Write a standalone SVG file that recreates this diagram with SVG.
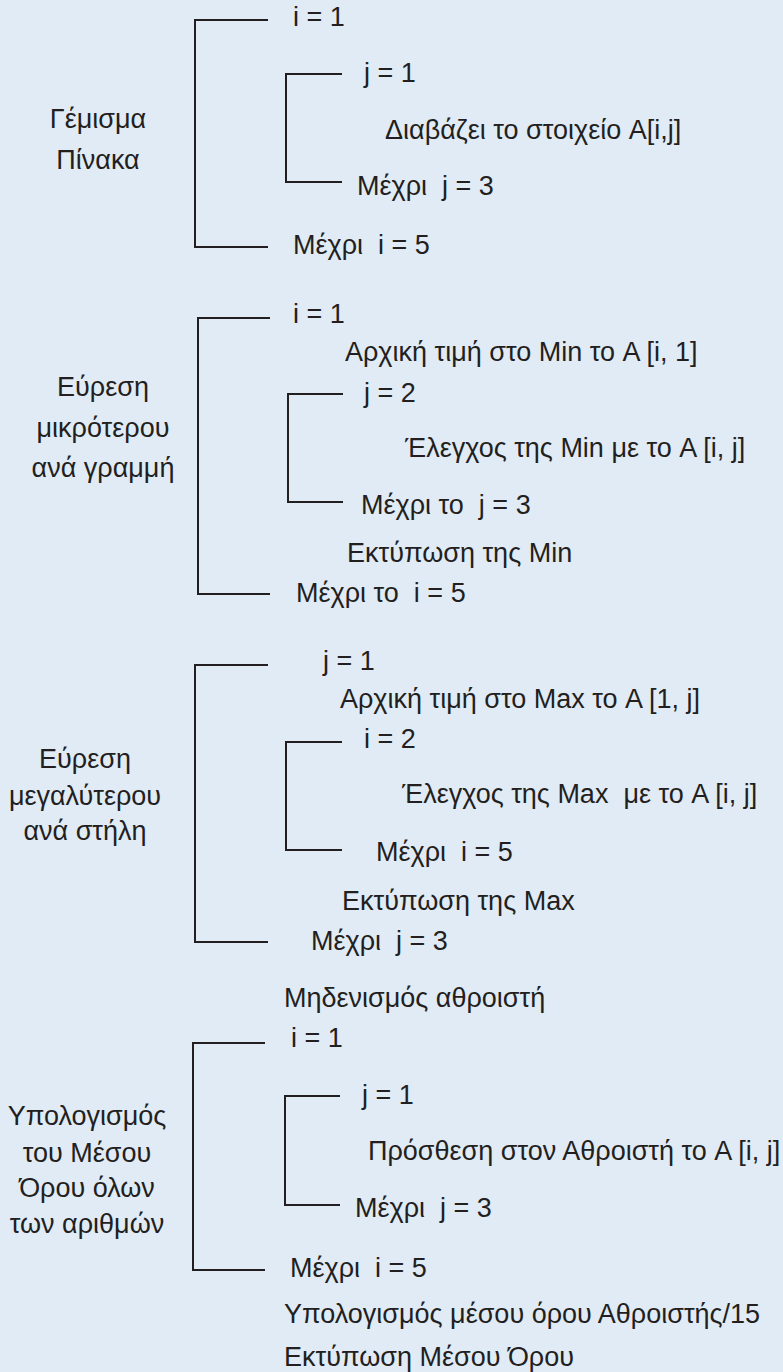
<svg xmlns="http://www.w3.org/2000/svg" width="783" height="1372" viewBox="0 0 783 1372">
<style>
text{font-family:"Liberation Sans","Noto Sans",sans-serif;font-size:27px;fill:#231f20}
.c{text-anchor:middle}
.br{fill:none;stroke:#231f20;stroke-width:2}
</style>
<rect width="783" height="1372" fill="#e1ebf6"/>
<g id="connectors">
<path class="br" d="M268 20H195V247H268"/>
<path class="br" d="M342 74H286V182H342"/>
<path class="br" d="M270 318H198V594H270"/>
<path class="br" d="M343 394H288V502H343"/>
<path class="br" d="M268 665H195V942H268"/>
<path class="br" d="M342 742H286V850H342"/>
<path class="br" d="M265 1043H193V1270H265"/>
<path class="br" d="M340 1096H285V1205H340"/>
</g>
<g id="s1-label"><text class="c" x="98" y="128">Γέμισμα</text><text class="c" x="98" y="169">Πίνακα</text></g>
<g id="s1-i1"><text x="293" y="26">i = 1</text></g>
<g id="s1-j1"><text x="364" y="82">j = 1</text></g>
<g id="s1-read"><text x="385" y="139">Διαβάζει το στοιχείο A[i,j]</text></g>
<g id="s1-j3"><text x="357" y="195">Μέχρι&#160; j = 3</text></g>
<g id="s1-i5"><text x="293" y="254">Μέχρι&#160; i = 5</text></g>

<g id="s2-label"><text class="c" x="103" y="396">Εύρεση</text><text class="c" x="103" y="437">μικρότερου</text><text class="c" x="103" y="477">ανά γραμμή</text></g>
<g id="s2-i1"><text x="293" y="323">i = 1</text></g>
<g id="s2-init"><text x="345" y="361">Αρχική τιμή στο Min το A [i, 1]</text></g>
<g id="s2-j2"><text x="364" y="402">j = 2</text></g>
<g id="s2-check"><text x="405" y="457">Έλεγχος της Min με το A [i, j]</text></g>
<g id="s2-j3"><text x="361" y="514">Μέχρι το&#160; j = 3</text></g>
<g id="s2-print"><text x="347" y="562">Εκτύπωση της Min</text></g>
<g id="s2-i5"><text x="296" y="602">Μέχρι το&#160; i = 5</text></g>

<g id="s3-label"><text class="c" x="85" y="768">Εύρεση</text><text class="c" x="85" y="805">μεγαλύτερου</text><text class="c" x="85" y="840">ανά στήλη</text></g>
<g id="s3-j1"><text x="323" y="670">j = 1</text></g>
<g id="s3-init"><text x="340" y="708">Αρχική τιμή στο Max το A [1, j]</text></g>
<g id="s3-i2"><text x="364" y="748">i = 2</text></g>
<g id="s3-check"><text x="402" y="803">Έλεγχος της Max&#160; με το A [i, j]</text></g>
<g id="s3-i5"><text x="376" y="861">Μέχρι&#160; i = 5</text></g>
<g id="s3-print"><text x="342" y="910">Εκτύπωση της Max</text></g>
<g id="s3-j3"><text x="311" y="950">Μέχρι&#160; j = 3</text></g>

<g id="s4-reset"><text x="284" y="1007">Μηδενισμός αθροιστή</text></g>
<g id="s4-label"><text class="c" x="87" y="1125">Υπολογισμός</text><text class="c" x="87" y="1162">του Μέσου</text><text class="c" x="87" y="1197">Όρου όλων</text><text class="c" x="87" y="1233">των αριθμών</text></g>
<g id="s4-i1"><text x="291" y="1047">i = 1</text></g>
<g id="s4-j1"><text x="362" y="1104">j = 1</text></g>
<g id="s4-add"><text x="368" y="1160">Πρόσθεση στον Αθροιστή το A [i, j]</text></g>
<g id="s4-j3"><text x="355" y="1217">Μέχρι&#160; j = 3</text></g>
<g id="s4-i5"><text x="290" y="1277">Μέχρι&#160; i = 5</text></g>
<g id="s4-avg"><text x="284" y="1323">Υπολογισμός μέσου όρου Αθροιστής/15</text></g>
<g id="s4-print"><text x="284" y="1366">Εκτύπωση Μέσου Όρου</text></g>
</svg>
